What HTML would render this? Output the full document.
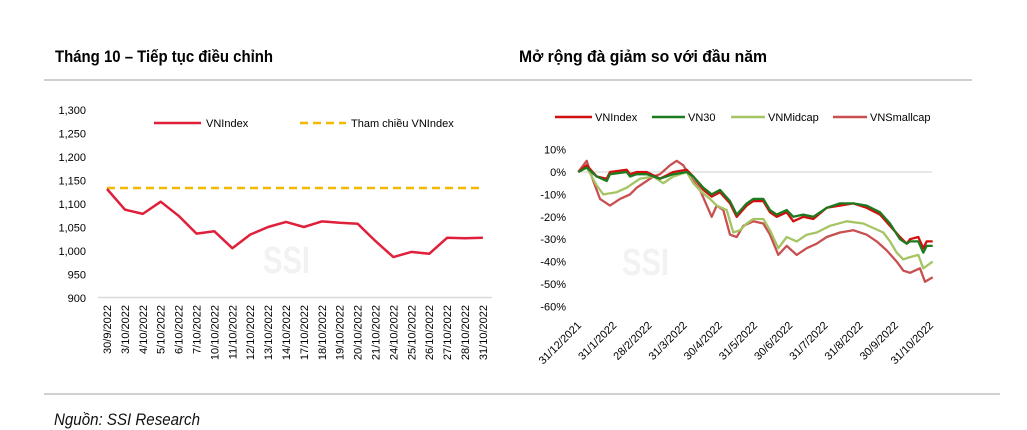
<!DOCTYPE html>
<html><head><meta charset="utf-8"><style>
html,body{margin:0;padding:0;background:#fff;}
svg{display:block;font-family:"Liberation Sans",sans-serif;}
</style></head><body>
<svg id="s" width="1027" height="430" xmlns="http://www.w3.org/2000/svg">
<line x1="44" y1="80" x2="972" y2="80" stroke="#c0c0c0" stroke-width="1.5"/>
<line x1="44" y1="394" x2="1000" y2="394" stroke="#c0c0c0" stroke-width="1.5"/>
<text x="55" y="62" font-size="17" font-weight="bold" fill="#000" textLength="218" lengthAdjust="spacingAndGlyphs">Tháng 10 – Tiếp tục điều chỉnh</text>
<text x="519" y="62" font-size="17" font-weight="bold" fill="#000" textLength="248" lengthAdjust="spacingAndGlyphs">Mở rộng đà giảm so với đầu năm</text>
<text x="54" y="425" font-size="17" font-style="italic" fill="#111" textLength="146" lengthAdjust="spacingAndGlyphs">Nguồn: SSI Research</text>
<text x="263" y="273" font-size="38" font-weight="bold" fill="#f2f2f2" textLength="47" lengthAdjust="spacingAndGlyphs">SSI</text>
<text x="622" y="275" font-size="38" font-weight="bold" fill="#f2f2f2" textLength="47" lengthAdjust="spacingAndGlyphs">SSI</text>
<g id="g"></g>
</svg>
<script>
var g=document.getElementById('g'),h='';
function t(x,y,s,o){h+='<text x="'+x+'" y="'+y+'" font-size="11" fill="#000" '+(o||'')+'>'+s+'</text>';}
for(var v=900;v<=1300;v+=50){var y=298-(v-900)*0.47;t(86,y+4,v>=1000?(String(v).slice(0,1)+','+String(v).slice(1)):v,'text-anchor="end"');}
h+='<line x1="98" y1="297.5" x2="492" y2="297.5" stroke="#d9d9d9" stroke-width="1.5"/>';
var lab=['30/9/2022','3/10/2022','4/10/2022','5/10/2022','6/10/2022','7/10/2022','10/10/2022','11/10/2022','12/10/2022','13/10/2022','14/10/2022','17/10/2022','18/10/2022','19/10/2022','20/10/2022','21/10/2022','24/10/2022','25/10/2022','26/10/2022','27/10/2022','28/10/2022','31/10/2022'];
var vals=[1132,1088,1079,1105,1075,1037,1042,1006,1035,1051,1062,1051,1063,1060,1058,1021,987,998,994,1028,1027,1028];
var p='';
for(var i=0;i<22;i++){var x=107+i*17.9;p+=(i?'L':'M')+x.toFixed(1)+' '+(298-(vals[i]-900)*0.47).toFixed(1);
 t(0,0,lab[i],'text-anchor="end" transform="translate('+(x+4)+',305) rotate(-90)"');}
h+='<line x1="107" y1="188" x2="483" y2="188" stroke="#f5b800" stroke-width="2.5" stroke-dasharray="8,5"/>';
h+='<path d="'+p+'" fill="none" stroke="#e0203a" stroke-width="2.5" stroke-linejoin="round"/>';
h+='<line x1="154" y1="123" x2="201" y2="123" stroke="#e0203a" stroke-width="2.5"/>';t(206,127,'VNIndex');
h+='<line x1="300" y1="123" x2="346" y2="123" stroke="#f5b800" stroke-width="2.5" stroke-dasharray="8,5"/>';t(351,127,'Tham chiều VNIndex');
for(var q=10;q>=-60;q-=10){t(566,172-q*2.24+4,q+'%','text-anchor="end"');}
h+='<line x1="578" y1="172" x2="932" y2="172" stroke="#d0d0d0" stroke-width="1"/>';
var xl=['31/12/2021','31/1/2022','28/2/2022','31/3/2022','30/4/2022','31/5/2022','30/6/2022','31/7/2022','31/8/2022','30/9/2022','31/10/2022'];
for(var i=0;i<11;i++){var x=582+i*35.2;t(0,0,xl[i],'text-anchor="end" transform="translate('+x+',326) rotate(-45)"');}
function ser(pts,col,w){var d='';for(var i=0;i<pts.length;i+=2){var x=520+pts[i]/3,y=172-pts[i+1]*2.24;d+=(i?'L':'M')+x.toFixed(1)+' '+y.toFixed(1);}
 h+='<path d="'+d+'" fill="none" stroke="'+col+'" stroke-width="'+w+'" stroke-linejoin="round"/>';}
var sm=[175,0,200,5,220,-4,240,-12,270,-15,300,-12,330,-10,350,-7,380,-4,400,-2,420,-1,450,3,470,5,490,3,510,-2,540,-8,575,-20,590,-15,610,-17,630,-28,650,-29,670,-24,700,-22,730,-23,750,-28,775,-37,800,-33,830,-37,860,-34,890,-32,920,-29,960,-27,1000,-26,1040,-28,1070,-31,1100,-35,1130,-40,1150,-44,1170,-45,1200,-43,1215,-49,1238,-47];
var md=[175,0,200,2,230,-6,250,-10,290,-9,320,-7,340,-5,360,-3,400,-2,430,-5,460,-2,500,0,520,-5,545,-9,570,-12,590,-15,620,-17,640,-27,660,-26,680,-23,700,-21,730,-21,750,-26,775,-34,800,-29,830,-31,860,-28,890,-27,930,-24,980,-22,1030,-23,1060,-25,1090,-27,1110,-31,1130,-36,1150,-39,1170,-38,1195,-37,1210,-43,1238,-40];
var vi=[175,0,200,3,230,-2,260,-3,270,0,320,1,330,-1,350,0,380,0,420,-3,460,0,500,1,520,-2,550,-8,575,-11,600,-9,630,-14,650,-20,680,-15,700,-13,730,-13,750,-18,770,-20,800,-18,820,-22,850,-20,880,-21,920,-16,960,-15,1000,-14,1040,-16,1080,-19,1110,-24,1140,-29,1160,-32,1170,-30,1195,-29,1210,-34,1220,-31,1238,-31];
var v3=[175,0,200,2,230,-2,260,-4,270,-1,320,0,330,-2,350,-1,380,-1,420,-3,460,-1,500,0,520,-2,550,-7,575,-10,600,-8,630,-13,650,-19,680,-14,700,-12,730,-12,750,-17,770,-19,800,-17,820,-20,850,-19,880,-20,920,-16,960,-14,1000,-14,1040,-15,1080,-18,1110,-23,1140,-30,1160,-32,1170,-31,1195,-31,1210,-36,1220,-33,1238,-33];
ser(sm,'#c95050',2.3);ser(md,'#a5c463',2.3);ser(vi,'#d01010',2.3);ser(v3,'#1e7a1e',2.3);
h+='<line x1="555" y1="117" x2="592" y2="117" stroke="#d01010" stroke-width="2.5"/>';t(595,121,'VNIndex');
h+='<line x1="652" y1="117" x2="685" y2="117" stroke="#1e7a1e" stroke-width="2.5"/>';t(688,121,'VN30');
h+='<line x1="731" y1="117" x2="765" y2="117" stroke="#a5c463" stroke-width="2.5"/>';t(768,121,'VNMidcap');
h+='<line x1="833" y1="117" x2="867" y2="117" stroke="#c95050" stroke-width="2.5"/>';t(870,121,'VNSmallcap');
g.innerHTML=h;
</script>
</body></html>
